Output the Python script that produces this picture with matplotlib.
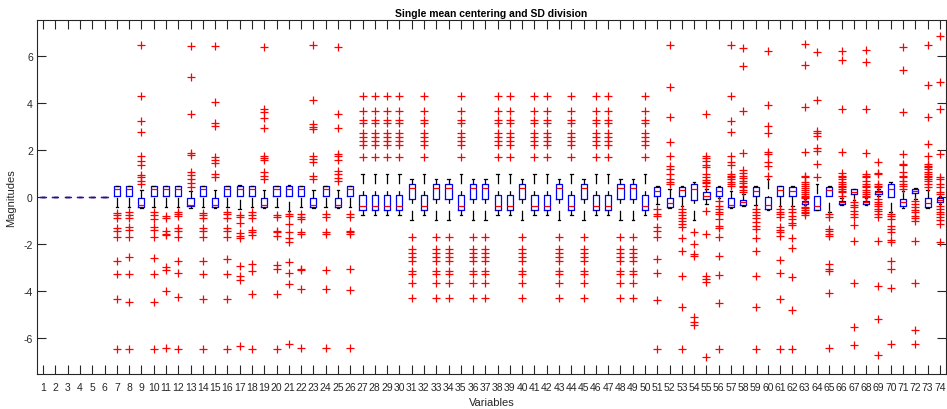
import matplotlib
matplotlib.use("Agg")
import matplotlib.pyplot as plt

plt.rcParams['font.family'] = ['Liberation Sans', 'DejaVu Sans']
plt.rcParams['lines.scale_dashes'] = False

# ---- data: per-variable box statistics after mean centering / SD scaling ----
variables = list(range(1, 75))

q1 = [0, 0, 0, 0, 0, 0,
      0.06, 0.06, -0.44, 0.06,
      0.06, 0.06, -0.40, 0.06, -0.44, 0.06, 0.06, 0.06, -0.44, 0.06,
      0.06, 0.06, -0.44, 0.06, -0.44, 0.06, -0.54, -0.54, -0.54, -0.54,
      -0.10, -0.54, -0.10, -0.10, -0.54, -0.10, -0.10, -0.54, -0.54, -0.10,
      -0.54, -0.54, -0.10, -0.54, -0.10, -0.54, -0.54, -0.10, -0.10, -0.54,
      0.06, -0.42, 0.06, -0.13, -0.09, 0.06, -0.44, -0.33, 0.06, -0.51,
      0.06, 0.06, -0.30, -0.54, 0.06, -0.30, 0.13, -0.30, 0.13, -0.01,
      -0.37, 0.16, -0.44, -0.23]

median = [0, 0, 0, 0, 0, 0,
          0.34, 0.34, -0.33, 0.34,
          0.34, 0.34, -0.33, 0.34, -0.33, 0.34, 0.34, 0.34, -0.33, 0.34,
          0.34, 0.34, -0.33, 0.34, -0.33, 0.34, -0.40, -0.40, -0.40, -0.40,
          0.40, -0.40, 0.40, 0.40, -0.40, 0.40, 0.40, -0.40, -0.40, 0.40,
          -0.40, -0.40, 0.40, -0.40, 0.40, -0.40, -0.40, 0.40, 0.40, -0.40,
          0.27, -0.26, 0.28, 0.34, 0.05, 0.27, -0.33, -0.23, 0.27, -0.34,
          0.31, 0.27, -0.23, -0.37, 0.28, -0.23, 0.23, -0.23, 0.20, 0.34,
          -0.23, 0.24, -0.26, -0.14]

q3 = [0, 0, 0, 0, 0, 0,
      0.45, 0.45, -0.06, 0.45,
      0.45, 0.45, -0.06, 0.45, -0.06, 0.45, 0.45, 0.45, -0.06, 0.45,
      0.47, 0.45, -0.06, 0.45, -0.06, 0.45, 0.10, 0.10, 0.10, 0.10,
      0.54, 0.10, 0.54, 0.54, 0.10, 0.54, 0.54, 0.10, 0.10, 0.54,
      0.10, 0.10, 0.54, 0.10, 0.54, 0.10, 0.10, 0.54, 0.54, 0.10,
      0.42, -0.06, 0.42, 0.55, 0.20, 0.42, -0.06, -0.13, 0.42, -0.01,
      0.46, 0.42, -0.16, 0.03, 0.44, -0.16, 0.34, -0.16, 0.27, 0.55,
      -0.09, 0.34, -0.06, -0.06]

whisker_low = [0, 0, 0, 0, 0, 0,
               -0.44, -0.44, -0.47, -0.44,
               -0.44, -0.44, -0.45, -0.44, -0.47, -0.44, -0.50, -0.44, -0.47, -0.44,
               -0.58, -0.44, -0.47, -0.44, -0.47, -0.44, -0.78, -0.78, -0.78, -0.78,
               -0.97, -0.78, -0.97, -0.97, -0.78, -0.97, -0.97, -0.78, -0.78, -0.97,
               -0.78, -0.78, -0.97, -0.78, -0.97, -0.78, -0.78, -0.97, -0.97, -0.78,
               -0.30, -0.45, -0.37, -0.96, -0.30, -0.05, -0.47, -0.38, -0.35, -0.55,
               -0.40, -0.40, -0.36, -0.56, -0.65, -0.35, -0.14, -0.36, 0.03, -0.64,
               -0.45, -0.10, -0.47, -0.30]

whisker_high = [0, 0, 0, 0, 0, 0,
                0.48, 0.48, 0.30, 0.48,
                0.48, 0.48, 0.25, 0.48, 0.30, 0.48, 0.50, 0.48, 0.30, 0.48,
                0.52, 0.48, 0.30, 0.48, 0.30, 0.48, 0.97, 0.97, 0.97, 0.97,
                0.78, 0.97, 0.78, 0.78, 0.97, 0.78, 0.78, 0.97, 0.97, 0.78,
                0.97, 0.97, 0.78, 0.97, 0.78, 0.97, 0.97, 0.78, 0.78, 0.97,
                0.46, 0.32, 0.46, 0.65, 0.35, 0.46, 0.27, 0.13, 0.46, 0.77,
                0.48, 0.46, -0.10, 0.55, 0.47, -0.05, 0.36, -0.05, 0.35, 0.63,
                0.25, 0.40, 0.30, 0.06]

# repeated outlier ladders shared by the step-like variables 27-50
ladder_up = [1.70, 2.20, 2.37, 2.55, 2.72, 3.17, 3.27, 3.66, 4.30]
ladder_down = [-1.70, -2.20, -2.37, -2.55, -2.72, -3.17, -3.27, -3.66, -4.30]

outliers = [
    [], [], [], [], [], [],
    [-0.68, -0.77, -0.91, -1.33, -1.43, -1.72, -2.71, -3.26, -4.33, -6.47],
    [-0.65, -0.77, -0.91, -1.29, -1.39, -1.72, -2.57, -3.29, -4.46, -6.47],
    [6.46, 4.29, 3.22, 2.75, 1.73, 1.52, 1.37, 0.95, 0.84, 0.69, 0.55],
    [-0.65, -0.77, -0.94, -1.29, -1.40, -1.72, -2.58, -3.29, -4.46, -6.47],
    [-0.80, -0.88, -1.43, -1.57, -1.62, -2.98, -3.09, -4.01, -6.43],
    [-0.65, -0.72, -0.82, -1.33, -1.43, -1.72, -2.71, -3.23, -4.28, -6.47],
    [6.44, 5.12, 3.52, 1.87, 1.79, 1.08, 0.94, 0.77, 0.60, 0.42],
    [-0.68, -0.77, -0.91, -1.33, -1.43, -1.72, -2.71, -3.26, -4.33, -6.47],
    [6.44, 4.03, 3.15, 3.03, 1.69, 1.57, 1.45, 0.98, 0.84],
    [-0.65, -0.74, -0.91, -1.33, -1.43, -1.72, -2.64, -3.26, -4.34, -6.47],
    [-0.77, -0.86, -1.11, -1.55, -1.65, -1.76, -2.92, -3.37, -3.53, -6.33],
    [-0.65, -0.77, -0.91, -1.39, -1.50, -1.64, -2.85, -3.14, -4.13, -6.47],
    [6.40, 3.74, 3.60, 3.37, 2.95, 1.76, 1.66, 1.56, 1.05, 0.91, 0.77],
    [-0.77, -0.86, -1.43, -1.50, -1.66, -2.88, -3.08, -4.13, -6.47],
    [-0.72, -0.82, -1.15, -1.50, -1.76, -1.90, -2.78, -3.23, -3.72, -6.28],
    [-0.72, -0.86, -0.94, -1.50, -1.57, -3.06, -3.11, -3.94, -6.43],
    [6.47, 4.13, 3.11, 2.97, 2.89, 1.76, 1.62, 1.48, 0.91, 0.77],
    [-0.72, -0.86, -1.50, -1.57, -3.09, -3.94, -6.43],
    [6.37, 3.53, 2.92, 1.83, 1.73, 1.59, 1.12, 0.98, 0.80, 0.69],
    [-0.72, -0.84, -1.43, -1.50, -1.57, -3.06, -3.98, -6.43],
    ladder_up, ladder_up, ladder_up, ladder_up,              # 27-30
    ladder_down, ladder_up, ladder_down, ladder_down,        # 31-34
    ladder_up, ladder_down, ladder_down, ladder_up,          # 35-38
    ladder_up, ladder_down, ladder_up, ladder_up,            # 39-42
    ladder_down, ladder_up, ladder_down, ladder_up,          # 43-46
    ladder_up, ladder_down, ladder_down, ladder_up,          # 47-50
    [-0.51, -0.72, -0.82, -1.29, -1.43, -1.69, -2.64, -3.23, -4.37, -6.47],
    [6.47, 4.67, 3.39, 2.33, 1.76, 1.33, 1.19, 0.98, 0.77, 0.65, 0.55],
    [-0.51, -0.65, -0.77, -0.91, -1.01, -1.15, -1.29, -1.76, -2.29, -3.37, -4.70, -6.47],
    [-1.50, -2.00, -2.43, -2.52, -5.12, -5.31, -5.45],
    [3.53, 1.76, 1.65, 1.55, 1.36, 1.26, 0.98, 0.84, 0.74, 0.65, 0.58, 0.48,
     -0.58, -1.57, -3.37, -3.49, -3.60, -6.82],
    [-0.16, -0.37, -0.51, -0.65, -0.72, -0.94, -1.22, -1.33, -1.72, -2.50, -3.32, -4.52, -6.47],
    [6.47, 4.31, 3.25, 2.75, 1.73, 1.48, 1.36, 0.98, 0.91, 0.84, 0.77, 0.65, 0.55, 0.48],
    [6.33, 5.59, 3.65, 1.87, 1.16, 1.02, 0.91, 0.80, 0.69, 0.58, 0.48, 0.41, 0.31, 0.20],
    [-0.51, -0.63, -0.77, -0.91, -1.08, -1.25, -1.36, -1.76, -2.29, -3.37, -4.70, -6.47],
    [6.23, 3.91, 3.03, 2.71, 1.93, 1.83, 1.48, 1.33, 0.91],
    [-0.51, -0.63, -0.72, -0.86, -1.29, -1.39, -1.50, -1.67, -2.68, -3.23, -4.34, -6.47],
    [-0.51, -0.65, -0.80, -0.94, -1.11, -1.19, -1.76, -2.18, -3.42, -4.80, -6.47],
    [6.51, 5.63, 3.82, 1.90, 0.91, 0.84, 0.65, 0.55, 0.46, 0.38, 0.30, 0.22, 0.14, 0.06,
     0.00, -0.05, -0.42, -0.48, -0.55, -0.62, -0.70, -0.78],
    [6.19, 4.13, 2.80, 2.71, 2.61, 2.07, 1.97, 1.40, 0.86],
    [-0.72, -0.86, -1.36, -1.43, -1.57, -1.65, -2.85, -3.06, -3.14, -4.10, -6.44],
    [6.23, 5.83, 3.74, 1.90, 1.02, 0.91, 0.84, 0.77, 0.65, 0.55, 0.48, 0.41, 0.34,
     0.27, 0.20, 0.06],
    [-0.23, -0.34, -0.44, -0.58, -0.72, -0.86, -1.19, -1.86, -3.66, -5.54, -6.30],
    [6.26, 5.76, 3.74, 1.87, 0.98, 0.91, 0.84, 0.69, 0.55, 0.48, 0.41, 0.30, 0.20,
     0.13, 0.06, 0.00],
    [1.48, 1.02, 0.98, 0.55, 0.48, 0.41, -0.09, -0.20, -0.30, -0.37, -0.50, -0.60,
     -0.72, -0.85, -1.86, -3.80, -5.19, -6.75],
    [-0.72, -0.82, -0.94, -1.22, -1.36, -1.48, -1.82, -1.93, -2.71, -3.06, -3.89, -6.26],
    [6.37, 5.42, 3.60, 1.83, 1.40, 1.36, 1.05, 0.91, 0.84, 0.69, 0.55, 0.48, 0.34],
    [-0.16, -0.30, -0.44, -0.54, -0.65, -0.80, -0.91, -1.01, -1.86, -3.66, -5.65, -6.28],
    [6.47, 4.77, 3.42, 2.26, 1.76, 1.40, 1.33, 1.26, 1.19, 1.05, 0.98, 0.91, 0.84,
     0.77, 0.69, 0.55, 0.41],
    [6.84, 4.91, 3.77, 1.83, 0.84, 0.77, 0.55, 0.41, 0.20, 0.13, -0.37, -0.51, -0.65,
     -0.72, -0.85, -1.00, -1.15, -1.93],
]

title_text = 'Single mean centering and SD division'
x_label = 'Variables'
y_label = 'Magnitudes'
y_ticks = [-6, -4, -2, 0, 2, 4, 6]

# ---- figure ----
fig = plt.figure(figsize=(9.47, 4.10), dpi=100)
ax = fig.add_axes([37 / 947, 35 / 410, 909 / 947, 354 / 410])

stats = []
for i, v in enumerate(variables):
    stats.append(dict(label=str(v), q1=q1[i], med=median[i], q3=q3[i],
                      whislo=whisker_low[i], whishi=whisker_high[i],
                      fliers=outliers[i]))

art = ax.bxp(stats, positions=variables, widths=0.5, capwidths=0.2,
             showfliers=True,
             boxprops=dict(color='#0000ff', linewidth=0.9),
             medianprops=dict(color='#ff0000', linewidth=0.9),
             whiskerprops=dict(color='black', linewidth=0.9),
             capprops=dict(color='black', linewidth=0.9),
             flierprops=dict(marker='+', markeredgecolor='#ff0000',
                             markersize=5.5, markeredgewidth=0.9,
                             linestyle='none'))

# whiskers dashed, with the dash pattern starting at the outer end
for line in art['whiskers']:
    xs, ys = line.get_data()
    line.set_data(list(xs)[::-1], list(ys)[::-1])
    line.set_dashes([7.0, 5.0])

# constant variables collapse onto zero: blend box and median colours
for i, med_line in enumerate(art['medians']):
    if q1[i] == q3[i]:
        med_line.set_alpha(0.5)

ax.set_xlim(0.5, 74.5)
ax.set_ylim(-7.54, 7.54)
ax.set_xticks(variables)
ax.set_xticklabels([str(v) for v in variables])
ax.set_yticks(y_ticks)
ax.set_yticklabels([str(t) for t in y_ticks])

axis_col = '#262626'
for sp in ax.spines.values():
    sp.set_color(axis_col)
    sp.set_linewidth(0.8)
ax.tick_params(axis='both', which='both', direction='in', length=6.5, width=0.8,
               color=axis_col, labelcolor=axis_col, labelsize=7.5,
               top=True, right=True)
ax.tick_params(axis='x', pad=5.5)
ax.tick_params(axis='y', pad=3)

ax.set_title(title_text, fontsize=7.5, fontweight='bold', color='black', pad=3)
ax.set_xlabel(x_label, fontsize=8, color=axis_col, labelpad=4)
ax.set_ylabel(y_label, fontsize=8, color=axis_col, labelpad=5)

fig.savefig('out.png', dpi=100)
